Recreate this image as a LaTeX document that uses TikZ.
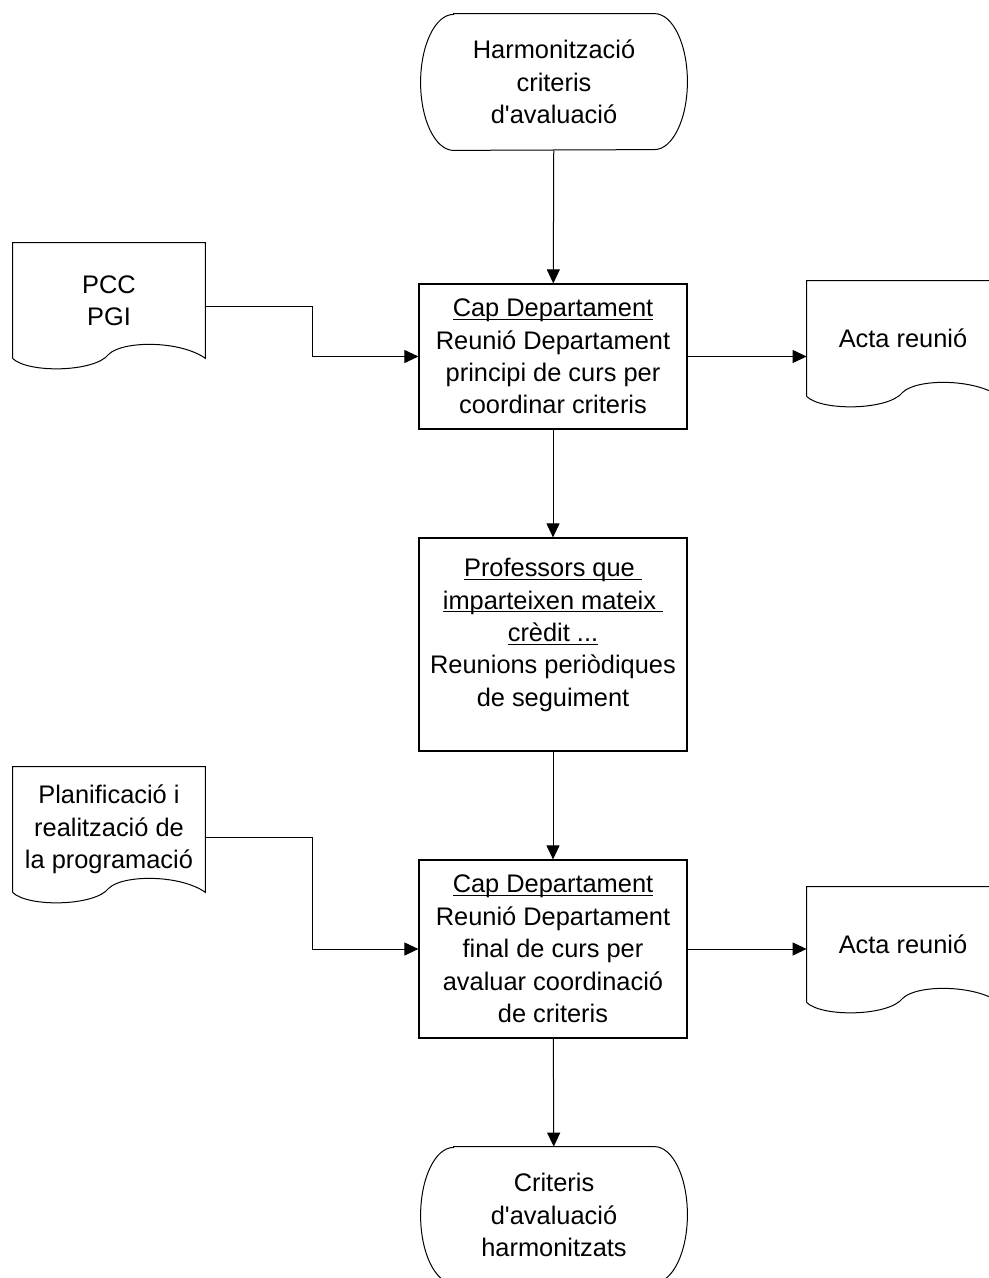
\documentclass[tikz,border=0pt]{standalone}
\usepackage{fontspec}
\setmainfont{Liberation Sans}
\usetikzlibrary{arrows.meta}
\newcommand{\ulhead}[1]{\underline{\raisebox{0pt}[\height][0pt]{#1}}}

\begin{document}
\begin{tikzpicture}[x=0.5pt, y=-0.5pt,
    every node/.style={font=\fontsize{12.7}{16.2}\selectfont, align=center, inner sep=0pt},
    box/.style={draw, line width=0.6pt, minimum width=134pt},
    doc/.style={minimum width=96pt, minimum height=57.5pt},
    term/.style={minimum width=133pt, minimum height=68pt},
    flow/.style={line width=0.5pt, -{Triangle[length=7pt, width=6.5pt]}}]
    \clip (0,0) rectangle (989,1278);

    \node [term] (start) at (554,82) {Harmonització\\criteris\\d\textquotesingle avaluació};
    \node [box, minimum height=72.5pt] (cap1) at (553,356.5)
        {\ulhead{Cap Departament}\\Reunió Departament\\principi de curs per\\coordinar criteris};
    \node [box, minimum height=106.5pt] (prof) at (553,644.5)
        {\ulhead{Professors que\ }\\\ulhead{imparteixen mateix\ }\\\ulhead{crèdit ...}\\Reunions periòdiques\\de seguiment\\[-4pt]\mbox{}};
    \node [box, minimum height=89pt] (cap2) at (553,949)
        {\ulhead{Cap Departament}\\Reunió Departament\\final de curs per\\avaluar coordinació\\de criteris};
    \node [term] (end) at (554,1215) {Criteris\\d\textquotesingle avaluació\\harmonitzats};

    \node [doc] (pcc) at (109,300.5) {PCC\\PGI};
    \node [doc, minimum height=62.5pt] (plan) at (109,829.5) {Planificació i\\realització de\\la programació};
    \node [doc] (acta1) at (903,338.5) {Acta reunió};
    \node [doc] (acta2) at (903,944.5) {Acta reunió};

    % terminals and documents
    \foreach \t in {start,end}
        \draw [line width=0.5pt] ([xshift=16.5pt]\t.north west) -- ([xshift=-16.5pt]\t.north east)
            arc [start angle=-90, end angle=90, x radius=33, y radius=68]
            -- ([xshift=16.5pt]\t.south west)
            arc [start angle=90, end angle=270, x radius=33, y radius=68] -- cycle;
    \foreach \d in {pcc,plan,acta1,acta2}
        \draw [line width=0.5pt] (\d.south west) -- (\d.north west) -- (\d.north east) -- (\d.south east)
            .. controls +(-25,-18) and +(14,-14) .. ([shift={(96,-4)}]\d.south west)
            .. controls +(-14,18) and +(15,15) .. (\d.south west);

    \draw [flow] (start) -- (cap1);
    \draw [flow] (cap1) -- (prof);
    \draw [flow] (prof) -- (cap2);
    \draw [flow] (cap2) -- (end);
    \draw [flow] ([yshift=-3.25pt]pcc.east) -- ++(107,0) |- (cap1.west);
    \draw [flow] ([yshift=-3.75pt]plan.east) -- ++(107,0) |- (cap2.west);
    \draw [flow] (cap1.east) -- (cap1.east -| acta1.west);
    \draw [flow] (cap2.east) -- (cap2.east -| acta2.west);
\end{tikzpicture}
\end{document}
